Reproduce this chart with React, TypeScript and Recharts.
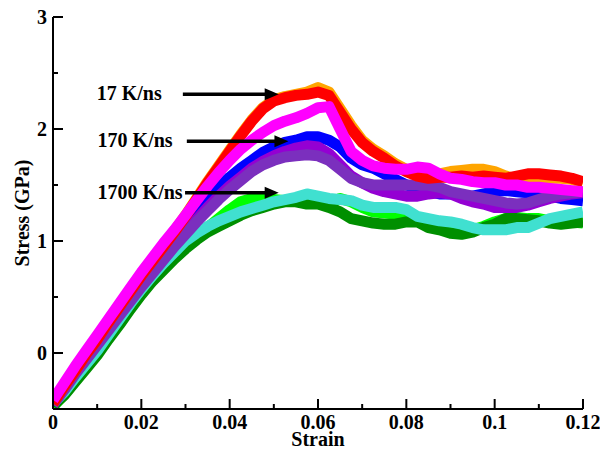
import React from 'react';
import { LineChart, Line, XAxis, YAxis, ReferenceLine, ReferenceDot } from 'recharts';

const STRAIN = [0, 0.0025, 0.005, 0.0075, 0.01, 0.0125, 0.015, 0.0175, 0.02, 0.0225, 0.025, 0.0275, 0.03, 0.0325, 0.035, 0.0375, 0.04, 0.0425, 0.045, 0.0475, 0.05, 0.0525, 0.055, 0.0575, 0.06, 0.0625, 0.065, 0.0675, 0.07, 0.0725, 0.075, 0.0775, 0.08, 0.0825, 0.085, 0.0875, 0.09, 0.0925, 0.095, 0.0975, 0.1, 0.1025, 0.105, 0.1075, 0.11, 0.1125, 0.115, 0.1175, 0.12];

const ORANGE = [-0.44, -0.29, -0.15, 0.0, 0.13, 0.28, 0.42, 0.56, 0.7, 0.83, 0.96, 1.09, 1.23, 1.38, 1.53, 1.67, 1.81, 1.95, 2.08, 2.19, 2.26, 2.29, 2.31, 2.33, 2.37, 2.33, 2.18, 2.03, 1.9, 1.82, 1.76, 1.69, 1.64, 1.6, 1.58, 1.6, 1.62, 1.63, 1.64, 1.64, 1.62, 1.58, 1.55, 1.52, 1.54, 1.56, 1.56, 1.55, 1.52];
const RED = [-0.45, -0.3, -0.16, -0.01, 0.12, 0.27, 0.41, 0.55, 0.69, 0.82, 0.95, 1.08, 1.22, 1.37, 1.52, 1.66, 1.8, 1.94, 2.07, 2.18, 2.25, 2.28, 2.3, 2.31, 2.33, 2.3, 2.15, 2.0, 1.88, 1.8, 1.74, 1.67, 1.62, 1.58, 1.56, 1.57, 1.57, 1.58, 1.57, 1.58, 1.57, 1.56, 1.58, 1.6, 1.6, 1.59, 1.58, 1.56, 1.53];
const MAGENTA = [-0.42, -0.27, -0.12, 0.02, 0.16, 0.3, 0.44, 0.58, 0.72, 0.85, 0.98, 1.1, 1.23, 1.36, 1.49, 1.61, 1.72, 1.82, 1.9, 1.97, 2.03, 2.07, 2.1, 2.14, 2.19, 2.2, 2.0, 1.8, 1.72, 1.67, 1.65, 1.64, 1.64, 1.66, 1.65, 1.6, 1.56, 1.55, 1.53, 1.52, 1.52, 1.5, 1.5, 1.48, 1.48, 1.47, 1.46, 1.45, 1.44];
const BLUE = [-0.45, -0.31, -0.17, -0.03, 0.1, 0.24, 0.37, 0.5, 0.63, 0.76, 0.88, 1.0, 1.12, 1.25, 1.37, 1.48, 1.57, 1.65, 1.72, 1.79, 1.84, 1.88, 1.9, 1.93, 1.93, 1.9, 1.84, 1.74, 1.68, 1.65, 1.6, 1.55, 1.5, 1.47, 1.44, 1.42, 1.42, 1.4, 1.4, 1.42, 1.44, 1.45, 1.44, 1.43, 1.42, 1.4, 1.38, 1.37, 1.36];
const VIOLET = [-0.46, -0.32, -0.18, -0.05, 0.08, 0.22, 0.35, 0.48, 0.61, 0.73, 0.85, 0.97, 1.08, 1.19, 1.3, 1.4, 1.49, 1.57, 1.65, 1.71, 1.76, 1.8, 1.83, 1.85, 1.84, 1.78, 1.68, 1.58, 1.52, 1.47, 1.44, 1.42, 1.4, 1.4, 1.42, 1.43, 1.42, 1.38, 1.35, 1.33, 1.3, 1.3, 1.3, 1.32, 1.35, 1.38, 1.4, 1.42, 1.43];
const PURPLE = [-0.46, -0.33, -0.19, -0.06, 0.07, 0.2, 0.33, 0.46, 0.59, 0.71, 0.83, 0.95, 1.06, 1.17, 1.27, 1.37, 1.46, 1.54, 1.62, 1.68, 1.72, 1.75, 1.76, 1.77, 1.76, 1.72, 1.64, 1.56, 1.52, 1.5, 1.5, 1.5, 1.5, 1.5, 1.5, 1.48, 1.44, 1.42, 1.4, 1.38, 1.36, 1.34, 1.33, 1.34, 1.37, 1.4, 1.42, 1.43, 1.44];
const LIME = [-0.48, -0.37, -0.25, -0.13, 0.0, 0.13, 0.27, 0.4, 0.53, 0.65, 0.76, 0.86, 0.95, 1.04, 1.12, 1.2, 1.28, 1.35, 1.38, 1.38, 1.37, 1.36, 1.37, 1.36, 1.35, 1.33, 1.38, 1.35, 1.3, 1.26, 1.25, 1.24, 1.22, 1.2, 1.17, 1.12, 1.1, 1.1, 1.1, 1.13, 1.17, 1.2, 1.21, 1.2, 1.2, 1.18, 1.17, 1.17, 1.16];
const DARKGREEN = [-0.47, -0.38, -0.26, -0.14, -0.02, 0.12, 0.25, 0.39, 0.52, 0.64, 0.74, 0.84, 0.93, 1.01, 1.08, 1.13, 1.18, 1.23, 1.27, 1.3, 1.33, 1.35, 1.35, 1.33, 1.33, 1.3, 1.26, 1.2, 1.18, 1.16, 1.15, 1.15, 1.17, 1.17, 1.12, 1.1, 1.07, 1.06, 1.08, 1.12, 1.15, 1.2, 1.2, 1.19, 1.18, 1.16, 1.15, 1.16, 1.17];
const TURQUOISE = [-0.45, -0.35, -0.22, -0.1, 0.02, 0.16, 0.3, 0.44, 0.57, 0.69, 0.8, 0.9, 1.0, 1.07, 1.13, 1.18, 1.22, 1.26, 1.29, 1.32, 1.35, 1.37, 1.39, 1.42, 1.4, 1.38, 1.37, 1.36, 1.32, 1.3, 1.3, 1.3, 1.28, 1.22, 1.2, 1.18, 1.17, 1.15, 1.12, 1.1, 1.1, 1.1, 1.12, 1.12, 1.16, 1.2, 1.22, 1.24, 1.26];

const X_TICKS = [0, 0.01, 0.02, 0.03, 0.04, 0.05, 0.06, 0.07, 0.08, 0.09, 0.1, 0.11, 0.12];
const X_MAJOR_LABELS: Record<string, string> = { '0': '0', '0.02': '0.02', '0.04': '0.04', '0.06': '0.06', '0.08': '0.08', '0.1': '0.1', '0.12': '0.12' };
const Y_TICKS = [-0.5, 0, 0.5, 1, 1.5, 2, 2.5, 3];
const Y_MAJOR_LABELS: Record<string, string> = { '0': '0', '1': '1', '2': '2', '3': '3' };

const ANNOTATIONS = [
  { label: '17 K/ns', textX: 0.0099, textY: 2.31, arrowFrom: 0.0294, arrowTo: 0.0511, arrowY: 2.31 },
  { label: '170 K/ns', textX: 0.0101, textY: 1.89, arrowFrom: 0.0303, arrowTo: 0.0533, arrowY: 1.89 },
  { label: '1700 K/ns', textX: 0.0101, textY: 1.43, arrowFrom: 0.0299, arrowTo: 0.0511, arrowY: 1.43 },
];

const SERIES = [
  { key: 'lime', values: LIME, color: '#00FF00' },
  { key: 'darkgreen', values: DARKGREEN, color: '#008F00' },
  { key: 'turquoise', values: TURQUOISE, color: '#40E0D0' },
  { key: 'blue', values: BLUE, color: '#0000FF' },
  { key: 'violet', values: VIOLET, color: '#9400D3' },
  { key: 'purple', values: PURPLE, color: '#7B2FBE' },
  { key: 'orange', values: ORANGE, color: '#FFA500' },
  { key: 'red', values: RED, color: '#FF0000' },
  { key: 'magenta', values: MAGENTA, color: '#FF00FF' },
];

const data = STRAIN.map((x, i) => {
  const row: Record<string, number> = { x };
  SERIES.forEach((s) => { row[s.key] = s.values[i]; });
  return row;
});

const FONT = "'Liberation Serif', 'Times New Roman', Times, serif";
const BOLD_TEXT: React.CSSProperties = { fontFamily: FONT, fontSize: 20, fontWeight: 700 };

const keyOf = (v: number) => String(Math.round(v * 1000) / 1000);

const BottomTick = (props: any) => {
  const { x, y, payload } = props;
  const lbl = X_MAJOR_LABELS[keyOf(payload.value)];
  const major = lbl !== undefined;
  return (
    <g>
      <line x1={x} x2={x} y1={y} y2={y - (major ? 10 : 5)} stroke="#000" strokeWidth={2} />
      {major && (
        <text x={x} y={y + 20} textAnchor="middle" style={BOLD_TEXT} fill="#000">{lbl}</text>
      )}
    </g>
  );
};

const TopTick = (props: any) => {
  const { x, y, payload } = props;
  const major = X_MAJOR_LABELS[keyOf(payload.value)] !== undefined;
  return <line x1={x} x2={x} y1={y} y2={y + (major ? 10 : 5)} stroke="#000" strokeWidth={2} />;
};

const LeftTick = (props: any) => {
  const { x, y, payload } = props;
  const lbl = Y_MAJOR_LABELS[keyOf(payload.value)];
  const major = lbl !== undefined;
  return (
    <g>
      <line x1={x} x2={x + (major ? 10 : 5)} y1={y} y2={y} stroke="#000" strokeWidth={2} />
      {major && (
        <text x={x - 6} y={y + 7} textAnchor="end" style={BOLD_TEXT} fill="#000">{lbl}</text>
      )}
    </g>
  );
};

const RightTick = (props: any) => {
  const { x, y, payload } = props;
  const major = Y_MAJOR_LABELS[keyOf(payload.value)] !== undefined;
  return <line x1={x} x2={x - (major ? 10 : 5)} y1={y} y2={y} stroke="#000" strokeWidth={2} />;
};

const Arrow = (props: any) => {
  const { x1, y1, x2, y2 } = props;
  const head = 14;
  return (
    <g>
      <line x1={x1} y1={y1} x2={x2 - head + 2} y2={y2} stroke="#000" strokeWidth={3.5} />
      <polygon points={`${x2},${y2} ${x2 - head},${y2 - 6} ${x2 - head},${y2 + 6}`} fill="#000" />
    </g>
  );
};

const AnnText = (label: string) => (props: any) => (
  <text x={props.cx} y={props.cy + 6} textAnchor="start" style={BOLD_TEXT} fill="#000">{label}</text>
);

export default function App() {
  return (
    <LineChart width={600} height={441} data={data} margin={{ top: 9, right: 25, bottom: 0, left: 0 }}>
      <XAxis
        xAxisId="bottom"
        dataKey="x"
        type="number"
        domain={[0, 0.12]}
        ticks={X_TICKS}
        interval={0}
        tickSize={0}
        tickMargin={0}
        tickLine={false}
        tick={<BottomTick />}
        height={40}
        axisLine={{ stroke: '#000', strokeWidth: 2 }}
        allowDataOverflow
        label={(p: any) => {
          const vb = p.viewBox;
          return (
            <text x={vb.x + vb.width / 2} y={vb.y + 37} textAnchor="middle" style={BOLD_TEXT} fill="#000">Strain</text>
          );
        }}
      />
      <XAxis
        xAxisId="top"
        orientation="top"
        dataKey="x"
        type="number"
        domain={[0, 0.12]}
        ticks={X_TICKS}
        interval={0}
        tickSize={0}
        tickMargin={0}
        tickLine={false}
        tick={<TopTick />}
        height={0}
        axisLine={{ stroke: '#000', strokeWidth: 2 }}
        allowDataOverflow
      />
      <YAxis
        yAxisId="left"
        type="number"
        domain={[-0.5, 3]}
        ticks={Y_TICKS}
        interval={0}
        tickSize={0}
        tickMargin={0}
        tickLine={false}
        tick={<LeftTick />}
        width={45}
        axisLine={{ stroke: '#000', strokeWidth: 2 }}
        allowDataOverflow
        label={(p: any) => {
          const vb = p.viewBox;
          const cx = 14;
          const cy = vb.y + vb.height / 2;
          return (
            <text x={cx} y={cy} transform={`rotate(-90 ${cx} ${cy})`} textAnchor="middle" dominantBaseline="central" style={BOLD_TEXT} fill="#000">Stress (GPa)</text>
          );
        }}
      />
      <YAxis
        yAxisId="right"
        orientation="right"
        type="number"
        domain={[-0.5, 3]}
        ticks={Y_TICKS}
        interval={0}
        tickSize={0}
        tickMargin={0}
        tickLine={false}
        tick={<RightTick />}
        width={0}
        axisLine={{ stroke: '#000', strokeWidth: 2 }}
        allowDataOverflow
      />
      {SERIES.map((s) => (
        <Line
          key={s.key}
          xAxisId="bottom"
          yAxisId="left"
          type="linear"
          dataKey={s.key}
          stroke={s.color}
          strokeWidth={11}
          strokeLinejoin="round"
          dot={false}
          activeDot={false}
          isAnimationActive={false}
        />
      ))}
      {ANNOTATIONS.map((a) => (
        <ReferenceLine
          key={'arr' + a.label}
          xAxisId="bottom"
          yAxisId="left"
          segment={[{ x: a.arrowFrom, y: a.arrowY }, { x: a.arrowTo, y: a.arrowY }]}
          shape={Arrow}
        />
      ))}
      {ANNOTATIONS.map((a) => (
        <ReferenceDot
          key={'txt' + a.label}
          xAxisId="bottom"
          yAxisId="left"
          x={a.textX}
          y={a.textY}
          r={0}
          shape={AnnText(a.label)}
        />
      ))}
    </LineChart>
  );
}
